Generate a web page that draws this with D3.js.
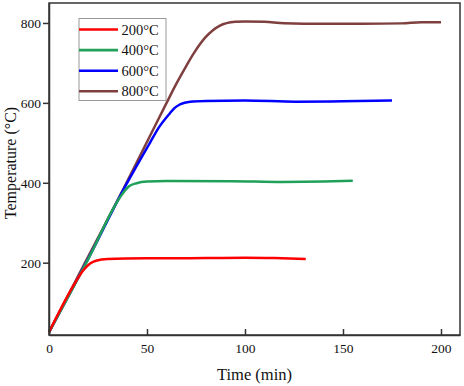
<!DOCTYPE html>
<html>
<head>
<meta charset="utf-8">
<script src="https://cdn.jsdelivr.net/npm/d3@7"></script>
<style>
  html, body { margin: 0; padding: 0; background: #fff; }
  svg { display: block; }
  svg text { font-family: "Liberation Serif", "Times New Roman", serif !important; fill: #111; }
</style>
</head>
<body>
<svg id="chart" width="464" height="386"></svg>
<script>
const seriesNames = ["200°C", "400°C", "600°C", "800°C"];
const seriesColors = ["#ff0000", "#21a05a", "#0000ff", "#7f3f3f"];

const t200 = [0, 11, 14, 17.5, 21, 24, 30, 50, 80, 100, 115, 131];
const v200 = [26, 130, 155, 181, 198, 205, 209, 211, 211.5, 212.5, 211.5, 209];

const t400 = [0, 20, 36, 38.8, 41, 44.7, 50, 60, 93, 119, 140, 155];
const v400 = [26, 209, 362, 381, 392, 399, 403, 404.5, 404, 402, 403, 405];

const t600 = [0, 20, 38, 51.5, 56, 61.7, 64, 66.8, 72, 80, 100, 126, 150, 175];
const v600 = [26, 210, 383, 500, 538, 574, 587, 596, 603, 605, 606, 603, 604, 606];

const t800 = [0, 20, 38, 51.5, 60, 65, 70, 74, 80, 87, 95, 100, 110, 120, 140, 160, 180, 190, 200];
const v800 = [26, 215, 385, 517, 600, 648, 692, 725, 765, 793, 803, 804, 803, 799.5, 798, 798, 799, 802, 802];

const xTicks = [0, 50, 100, 150, 200];
const yTicks = [200, 400, 600, 800];

const times = [t200, t400, t600, t800];
const temps = [v200, v400, v600, v800];

const svg = d3.select("#chart");
const W = 464, H = 386;
const m = { left: 49, right: 4, top: 3, bottom: 51 };

const x = d3.scaleLinear().domain([0, 209.7]).range([m.left, W - m.right]);
const y = d3.scaleLinear().domain([19, 850]).range([H - m.bottom, m.top]);

// lines
const line = d3.line().x(d => x(d[0])).y(d => y(d[1])).curve(d3.curveMonotoneX);
const order = [3, 2, 1, 0];
order.forEach(i => {
  const pts = times[i].map((t, k) => [t, temps[i][k]]);
  svg.append("path")
    .attr("d", line(pts))
    .attr("fill", "none")
    .attr("stroke", seriesColors[i])
    .attr("stroke-width", 2.5)
    .attr("stroke-linejoin", "round");
});

// frame
svg.append("rect")
  .attr("x", m.left).attr("y", m.top)
  .attr("width", W - m.right - m.left).attr("height", H - m.bottom - m.top)
  .attr("fill", "none").attr("stroke", "#333").attr("stroke-width", 1.5);

// axes
const xAxis = svg.append("g")
  .attr("transform", `translate(0,${H - m.bottom})`)
  .call(d3.axisBottom(x).tickValues(xTicks).tickSizeInner(-6).tickSizeOuter(0).tickPadding(8));
const yAxis = svg.append("g")
  .attr("transform", `translate(${m.left},0)`)
  .call(d3.axisLeft(y).tickValues(yTicks).tickSizeInner(6).tickSizeOuter(0).tickPadding(2));

[xAxis, yAxis].forEach(g => {
  g.attr("font-family", null);
  g.select(".domain").attr("stroke", "#333").attr("stroke-width", 1.5);
  g.selectAll(".tick line").attr("stroke", "#333").attr("stroke-width", 1.5);
  g.selectAll(".tick text")
    .style("font-family", "'Liberation Serif', 'Times New Roman', serif")
    .attr("font-size", 13.5).attr("fill", "#111");
});
xAxis.selectAll(".tick text").attr("dy", null).attr("y", 17.5);

// axis titles
svg.append("text")
  .attr("x", (m.left + W - m.right) / 2).attr("y", 380)
  .attr("text-anchor", "middle").attr("font-size", 16.5)
  .text("Time (min)");
svg.append("text")
  .attr("transform", `translate(16,163) rotate(-90)`)
  .attr("text-anchor", "middle").attr("font-size", 16)
  .text("Temperature (°C)");

// legend
const lg = svg.append("g");
lg.append("rect")
  .attr("x", 79).attr("y", 18.5).attr("width", 87).attr("height", 82)
  .attr("fill", "#fff").attr("stroke", "#999").attr("stroke-width", 1);
seriesNames.forEach((name, i) => {
  const cy = 29.5 + i * 20.6;
  lg.append("line")
    .attr("x1", 79).attr("x2", 118).attr("y1", cy).attr("y2", cy)
    .attr("stroke", seriesColors[i]).attr("stroke-width", 2.6);
  lg.append("text")
    .attr("x", 121.5).attr("y", cy + 5)
    .attr("font-size", 14.5)
    .text(name);
});
</script>
</body>
</html>
